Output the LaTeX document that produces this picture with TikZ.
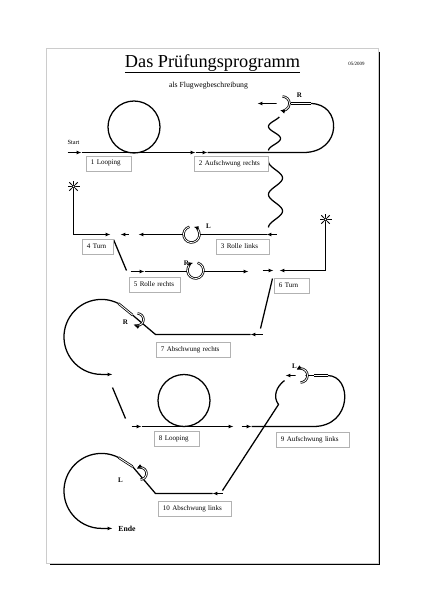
\documentclass[tikz,border=0pt]{standalone}
\usepackage{fontspec}
\setmainfont{Liberation Serif}
\usetikzlibrary{calc,arrows.meta}

\begin{document}
\begin{tikzpicture}[x=0.05cm,y=-0.05cm,line width=1.8pt,
  arr/.style={-{Latex[length=7pt,width=5.5pt]}},
  lbox/.style={draw=gray!60, line width=1.2pt, fill=white, anchor=north west,
    inner xsep=0.25cm, inner ysep=0pt, minimum height=0.75cm, align=left,
    font=\fontsize{10}{12}\selectfont},
  dbl/.style={double, double distance=1.2pt, line width=1.1pt},
  side/.style={font=\bfseries\fontsize{10}{12}\selectfont, inner sep=0pt}]
  \useasboundingbox (0,0) rectangle (424,600);
  \begin{scope}[shift={(0.5,0.5)}]

  % Page frame
  \draw[line width=1.5pt] (379,51) -- (379,564) -- (49,564);
  \draw[gray!40, line width=2pt] (46,48) rectangle (378,563);

  % Heading
  \node[anchor=base, font=\fontsize{26}{30}\selectfont] (title) at (212,67) {\underline{Das Prüfungsprogramm}};
  \node[font=\fontsize{11}{13}\selectfont] (subtitle) at (208,85) {als Flugwegbeschreibung};
  \node[font=\fontsize{7}{8}\selectfont] (date) at (356,63) {05/2009};
  \node[font=\fontsize{9}{10}\selectfont] (start) at (73,142) {Start};

  % 1 Looping, 2 Aufschwung rechts
  \draw[arr] (67,152) -- (81,152);
  \draw[arr] (81,152) -- (195,152);
  \draw[arr] (195,152) -- (207,152);
  \draw (133.5,126.5) circle[radius=26];
  \draw (207,152) -- (303,152) .. controls (342,152) and (342,103) .. (310,103);
  \draw[dbl] (310,103) -- (290,103);
  \draw[arr] (290,103) -- (257,103);
  \fill[white] (282,103) circle[radius=6];
  \draw[dbl,arr] (282,96) arc[start angle=-90, end angle=110, radius=7];
  \node[side] (r1) at (299,95) {R};

  % Wavy lines
  \draw plot[domain=0:1.4, samples=50] ({274-6*cos(360*\x)}, {150-24*\x});
  \draw plot[domain=0:2, samples=70] ({275-7*cos(360*\x)}, {161+33*\x});

  % 3 Rolle links
  \draw[arr] (276,234) -- (266,234);
  \draw[arr] (266,234) -- (138,234);
  \fill[white] (191,234) circle[radius=8];
  \draw[dbl,arr] (191,234) ++(-105:8) arc[start angle=-105, end angle=-435, radius=8];
  \node[side] (l3) at (208,226) {L};

  % 4 Turn
  \draw[line width=1.2pt] (73,186) circle[radius=1.8];
  \foreach \a in {0,45,...,315} {
    \draw[line width=1.2pt] (73,186) ++(\a:2.5) -- ++(\a:3.5);
  }
  \draw (73,192) -- (73,234) -- (104,234);
  \draw[arr] (103,234) -- (110,234);
  \draw[arr] (128,234) -- (120,234);
  \draw (113,239) -- (126,270);

  % 5 Rolle rechts
  \draw[arr] (130,271) -- (144,271);
  \draw[arr] (144,271) -- (248,271);
  \fill[white] (195,270) circle[radius=8];
  \draw[dbl,arr] (195,270) ++(-75:8) arc[start angle=-75, end angle=255, radius=8];
  \node[side] (r5) at (186,263) {R};

  % 6 Turn
  \draw[line width=1.2pt] (325,219) circle[radius=1.8];
  \foreach \a in {0,45,...,315} {
    \draw[line width=1.2pt] (325,219) ++(\a:2.5) -- ++(\a:3.5);
  }
  \draw (325,225) -- (325,270) -- (285,270);
  \draw[arr] (286,270) -- (279,270);
  \draw[arr] (262,270) -- (273,270);
  \draw (272,278) -- (260,328);

  % 7 Abschwung rechts
  \draw[arr] (262,334) -- (250,334);
  \draw (250,334) -- (155,334) -- (132,314.5);
  \draw[dbl] (132,314.5) -- (118,303);
  \draw[arr] (118,303) arc[start angle=-63, end angle=-270, radius=37.5] -- ++(11,0);
  \draw[dbl,arr] (137,313) arc[start angle=-90, end angle=120, radius=6];
  \node[side] (r7) at (125,322) {R};
  \draw (112,387) -- (125,418);

  % 8 Looping
  \draw[arr] (131,426) -- (141,426);
  \draw[arr] (141,426) -- (233,426);
  \draw (183.5,400) circle[radius=26];

  % 9 Aufschwung links
  \draw[arr] (241,426) -- (251,426);
  \draw (251,426) -- (313,426) .. controls (352,426) and (352,375) .. (327,375);
  \draw[dbl] (327,375) -- (313,375);
  \draw[arr] (313,375) -- (285,375);
  \fill[white] (300,375) circle[radius=5];
  \draw[dbl,arr] (300,382) arc[start angle=90, end angle=-125, radius=7];
  \node[side] (l9) at (294,366) {L};
  \draw (222,490) -- (278,404) .. controls (272,396) and (276,386) .. (284,380);

  % 10 Abschwung links
  \draw[arr] (222,493) -- (212,493);
  \draw (212,493) -- (155,493) -- (132,466);
  \draw[dbl] (132,466) -- (118,457);
  \draw[arr] (118,457) arc[start angle=-63, end angle=-270, radius=37.5] -- ++(11,0);
  \draw[dbl,arr] (140,479) arc[start angle=90, end angle=-125, radius=6];
  \node[side] (l10) at (120,480) {L};
  \node[anchor=west, font=\bfseries\fontsize{11}{13}\selectfont] (ende) at (115,528) {Ende};

  % Labels
  \node[lbox, text width=1.8cm]  (box1)  at (85,155)  {1 Looping};
  \node[lbox, text width=3.25cm] (box2)  at (193,155) {2 Aufschwung rechts};
  \node[lbox, text width=2.15cm] (box3)  at (215,238) {3 Rolle links};
  \node[lbox, text width=1.1cm]  (box4)  at (81,238)  {4 Turn};
  \node[lbox, text width=2.1cm]  (box5)  at (128,276) {5 Rolle rechts};
  \node[lbox, text width=1.25cm] (box6)  at (273,277) {6 Turn};
  \node[lbox, text width=3.25cm] (box7)  at (155,341) {7 Abschwung rechts};
  \node[lbox, text width=1.8cm]  (box8)  at (153,430) {8 Looping};
  \node[lbox, text width=3.15cm] (box9)  at (275,431) {9 Aufschwung links};
  \node[lbox, text width=3.2cm]  (box10) at (157,500) {10 Abschwung links};
  \end{scope}
\end{tikzpicture}
\end{document}
